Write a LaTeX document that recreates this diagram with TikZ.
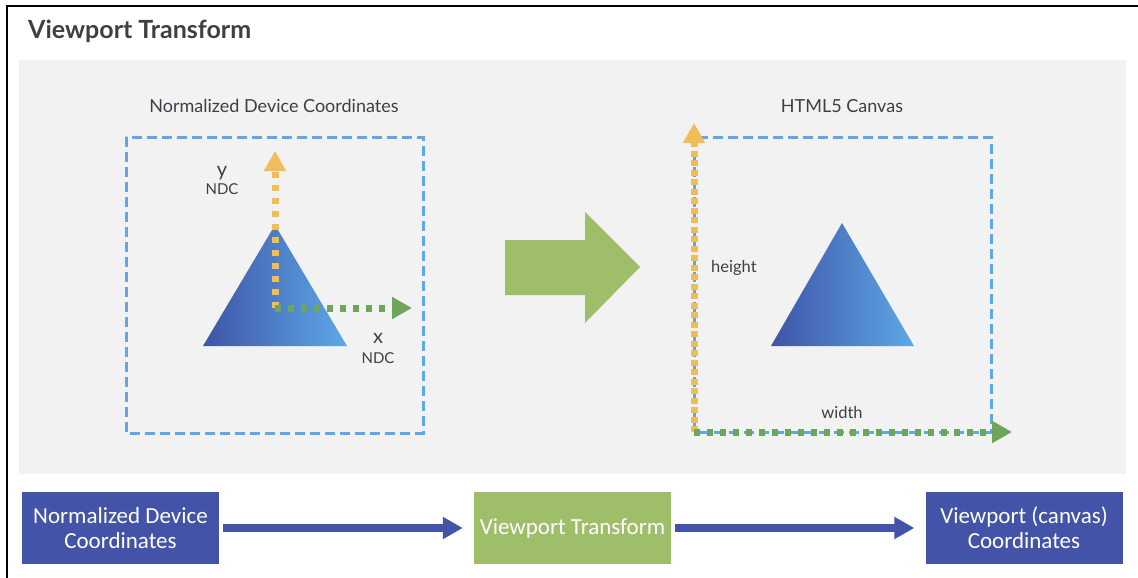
\documentclass[tikz,border=0pt]{standalone}
\usepackage{fontspec}
\setmainfont{Lato}
\newfontfamily\boxfont{Carlito}
\usepackage{tikz}
\usetikzlibrary{positioning,arrows.meta}
\definecolor{panelcol}{RGB}{242,242,242}
\definecolor{textcol}{RGB}{60,64,68}
\definecolor{dashcol}{RGB}{93,168,232}
\definecolor{ycol}{RGB}{240,190,88}
\definecolor{xcol}{RGB}{109,165,90}
\definecolor{bigcol}{RGB}{159,190,105}
\definecolor{boxcol}{RGB}{67,83,167}
\definecolor{tridark}{RGB}{63,84,168}
\definecolor{trilight}{RGB}{93,168,230}

\begin{document}
\begin{tikzpicture}[x=1pt, y=-1pt,
  every node/.style={text=textcol, inner sep=0pt},
  lab/.style={font=\fontsize{18}{21}\selectfont},
  small/.style={font=\fontsize{15}{18}\selectfont},
  axis/.style={font=\fontsize{20}{22}\selectfont},
  canvasframe/.style={dashcol, line width=3pt, dash pattern=on 10pt off 5pt},
  tip/.style={-{Triangle[length=20pt, width=21pt]}},
  ydots/.style={tip, ycol, line width=7pt, dash pattern=on 6pt off 7pt},
  xdots/.style={tip, xcol, line width=7pt, dash pattern=on 6pt off 7pt},
  stepbox/.style={fill=#1, text=white, minimum width=197pt, minimum height=72pt,
    align=center, font=\boxfont\fontsize{23}{25}\selectfont},
  flow/.style={boxcol, line width=8pt, tip, shorten <=4pt, shorten >=11pt},
]
\useasboundingbox (0,0) rectangle (1138,578);
\draw[black, line width=2pt] (7,578) -- (7,6) -- (1138,6);
\node[anchor=base west, font=\fontsize{25}{29}\selectfont\bfseries] (title) at (28,39) {Viewport Transform};
\fill[panelcol] (19,60) rectangle (1126,474);

% NDC side
\node[lab, anchor=base] (ndclab) at (274,112) {Normalized Device Coordinates};
\draw[canvasframe] (126,137) rectangle (423,433);
\shade[left color=tridark, right color=trilight] (203,346) -- (275,225) -- (347,346) -- cycle;
\coordinate (o1) at (275,308);
\coordinate (ytip1) at (275,151);
\coordinate (xtip1) at (412,308);
\draw[ydots] (o1) -- (ytip1);
\draw[xdots] (o1) -- (xtip1);
\node[axis, anchor=base] (ylab) at (222,176) {y};
\node[small, anchor=base] (yndc) at (222,194) {NDC};
\node[axis, anchor=base] (xlab) at (378,343) {x};
\node[small, anchor=base] (xndc) at (378,363) {NDC};

% transform arrow
\fill[bigcol] (505,240) -- (585,240) -- (585,212) -- (640,267) -- (585,323) -- (585,295) -- (505,295) -- cycle;

% canvas side
\node[lab, anchor=base] (canvaslab) at (842,112) {HTML5 Canvas};
\draw[canvasframe] (694,137) rectangle (991,432);
\shade[left color=tridark, right color=trilight] (771,346) -- (842,223) -- (914,346) -- cycle;
\coordinate (o2) at (694,432);
\coordinate (ytip2) at (694,123);
\coordinate (xtip2) at (1012,432);
\draw[ydots, dash pattern=on 6pt off 3.5pt] (o2) -- (ytip2);
\draw[xdots] (o2) -- (xtip2);
\node[font=\fontsize{16.5}{19}\selectfont, anchor=base west] (hlab) at (711,272) {height};
\node[font=\fontsize{16.5}{19}\selectfont, anchor=base] (wlab) at (842,418) {width};

% pipeline
\node[stepbox=boxcol] (ndc) at (120.5,528) {Normalized Device\\Coordinates};
\node[stepbox=bigcol] (vt) at (572.5,528) {Viewport Transform};
\node[stepbox=boxcol] (vp) at (1024,528) {Viewport (canvas)\\Coordinates};
\draw[flow] (ndc) -- (vt);
\draw[flow] (vt) -- (vp);
\end{tikzpicture}
\end{document}
